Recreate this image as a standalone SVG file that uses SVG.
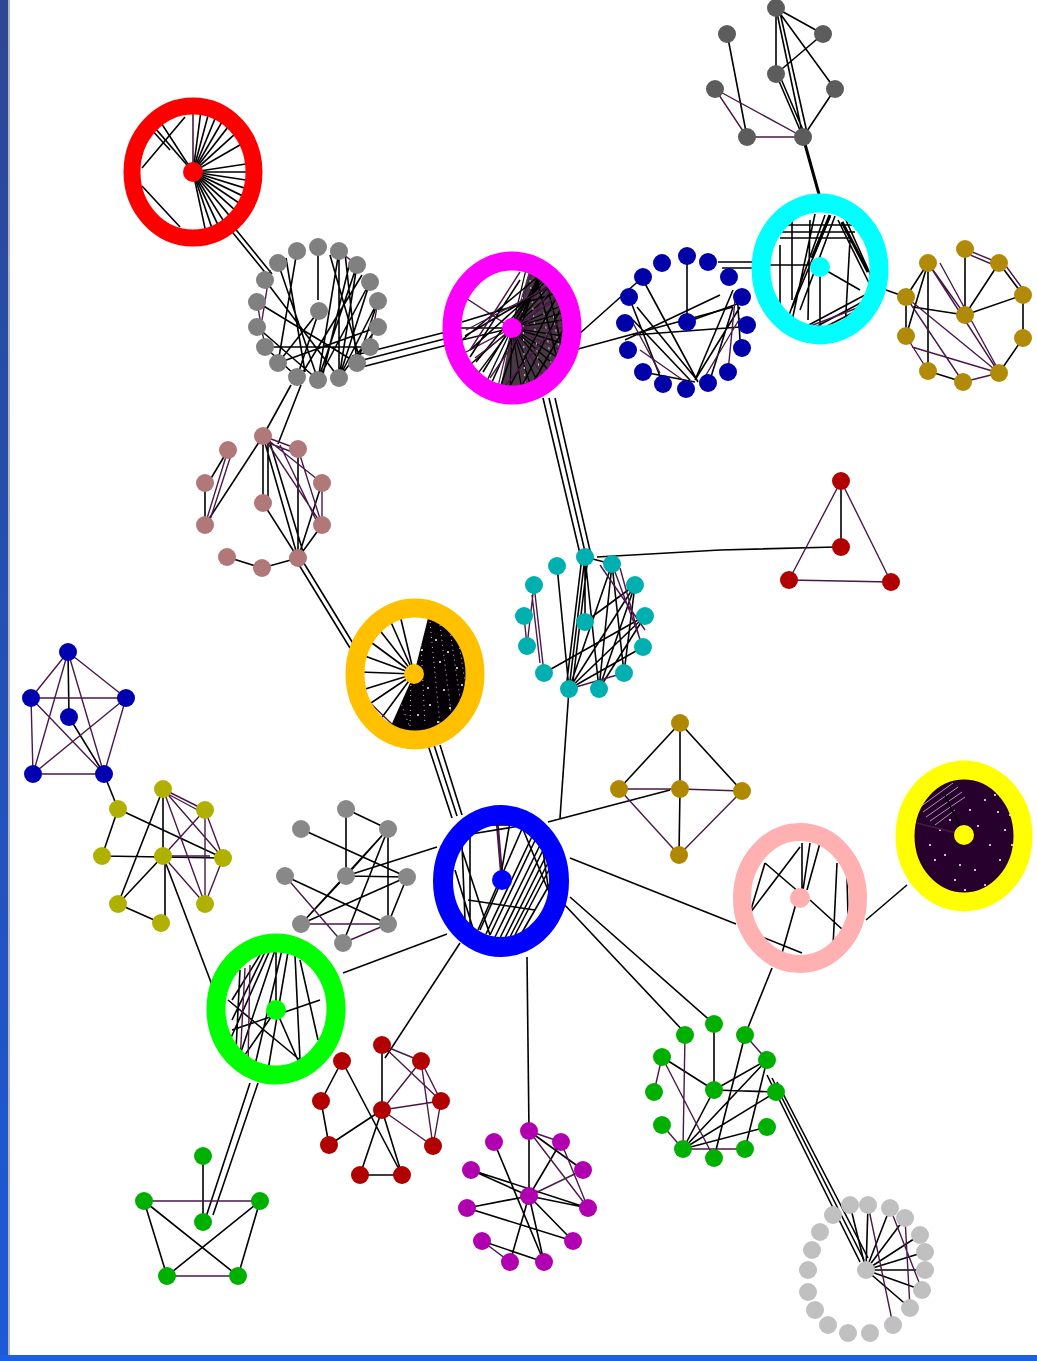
<svg xmlns="http://www.w3.org/2000/svg" width="1037" height="1361" viewBox="0 0 1037 1361">
<style>
.e{stroke:#000;stroke-width:1.6;fill:none}
.p{stroke:#4a1848;stroke-width:1.4;fill:none}
.w{stroke:#fff;stroke-width:0.8;fill:none}
.ring{fill:none}
</style>
<defs>
<linearGradient id="lb" x1="0" y1="0" x2="0" y2="1">
<stop offset="0" stop-color="#2c4793"/><stop offset="1" stop-color="#1d5ad6"/>
</linearGradient>
<line id="sp" x1="0" y1="0" x2="60" y2="0"/>
</defs>
<rect width="1037" height="1361" fill="#fff"/>
<rect x="0" y="0" width="8" height="1361" fill="url(#lb)"/>
<rect x="8" y="0" width="2" height="1361" fill="#b8b8b8"/>
<rect x="0" y="1355" width="1037" height="6" fill="#1c5fe0"/>

<g id="connectors">
<path class="e" d="M229,228L268,276M233,226L272,274"/>
<path class="e" d="M352,356L450,331M355,362L452,337M358,368L455,343"/>
<path class="e" d="M291,385L263,436M301,385L278,444"/>
<path class="e" d="M296,560L350,648M302,560L354,645"/>
<path class="e" d="M543,398L581,558M549,398L586,556M555,398L591,555"/>
<path class="e" d="M578,335L643,277M578,349L733,307"/>
<path class="e" d="M718,262L760,262M722,268L760,268"/>
<path class="e" d="M886,290L906,297"/>
<path class="e" style="stroke-width:3" d="M803,137L822,205"/>
<path class="e" d="M597,557L720,550L836,547"/>
<path class="e" d="M569,689L560,818"/>
<path class="e" d="M428,745L452,818M434,745L457,816M440,745L462,815"/>
<path class="e" d="M104,774L118,809"/>
<path class="e" d="M163,856L212,985"/>
<path class="e" d="M346,876L437,847"/>
<path class="e" d="M343,973L447,934"/>
<path class="e" d="M460,943L385,1058"/>
<path class="e" d="M527,957L529,1131"/>
<path class="e" d="M548,822L670,790"/>
<path class="e" d="M570,858L736,924"/>
<path class="e" d="M562,902L686,1034M570,897L714,1024"/>
<path class="e" d="M866,920L907,885"/>
<path class="e" d="M772,968L745,1035"/>
<path class="e" d="M767,1075L860,1262M772,1078L864,1260M777,1082L868,1258"/>
<path class="e" d="M250,1083L205,1220M258,1083L213,1215"/>

<path class="e" d="M776,8L823,34M776,8L776,74M776,8L803,137M779,8L808,137M776,8L835,89M823,34L776,74M727,33L747,137M776,74L803,137M779,74L806,137M835,89L803,137"/>
<path class="p" d="M715,89L747,137M715,89L803,137M747,137L803,137"/>

<g class="e" transform="translate(193,172) scale(1,1.08)">
<use href="#sp" transform="rotate(-90)" style="stroke:#4a1848"/>
<use href="#sp" transform="rotate(-82)"/><use href="#sp" transform="rotate(-74)"/><use href="#sp" transform="rotate(-66)"/>
<use href="#sp" transform="rotate(-58)"/><use href="#sp" transform="rotate(-50)"/><use href="#sp" transform="rotate(-40)"/>
<use href="#sp" transform="rotate(-28)"/><use href="#sp" transform="rotate(-8)"/><use href="#sp" transform="rotate(0)"/>
<use href="#sp" transform="rotate(8)"/><use href="#sp" transform="rotate(16)"/><use href="#sp" transform="rotate(24)"/>
<use href="#sp" transform="rotate(32)"/><use href="#sp" transform="rotate(40)"/><use href="#sp" transform="rotate(48)"/>
<use href="#sp" transform="rotate(56)"/><use href="#sp" transform="rotate(63)"/><use href="#sp" transform="rotate(70)"/>
<use href="#sp" transform="rotate(77)"/><use href="#sp" transform="rotate(-125)"/><use href="#sp" transform="rotate(-133)"/>
</g>
<path class="e" d="M142,168L185,117M142,186L180,227M150,128L170,150"/>

<path class="e" d="M297,251L278,363M278,263L318,380M339,251L318,380M339,251L339,378M345,253L357,363M357,265L339,378M357,265L318,380M370,282L339,378M370,282L318,380M378,301L339,378M378,301L357,363M378,327L339,378M319,311L297,377M319,311L278,363M265,280L339,378M257,302L357,363M257,327L318,380M265,347L297,377M318,247L318,300M330,255L360,360M350,262L322,378M362,275L300,377M265,347L370,347M278,363L378,327M286,258L305,372"/>
<path class="p" d="M257,302L265,347M270,270L262,320M370,347L378,301M339,251L357,265"/>

<path d="M512,328L530,268A55,62 0 0,1 500,390Z" fill="#14000f" opacity="0.78"/>
<g class="e" style="stroke-width:1.2" transform="translate(512,328) scale(1,1.12)">
<use href="#sp" transform="rotate(-75)"/><use href="#sp" transform="rotate(-68)" style="stroke:#4a1848"/><use href="#sp" transform="rotate(-60)"/>
<use href="#sp" transform="rotate(-52)" style="stroke:#4a1848"/><use href="#sp" transform="rotate(-45)"/><use href="#sp" transform="rotate(-38)"/>
<use href="#sp" transform="rotate(-30)" style="stroke:#4a1848"/><use href="#sp" transform="rotate(-22)"/><use href="#sp" transform="rotate(-15)"/>
<use href="#sp" transform="rotate(-8)"/><use href="#sp" transform="rotate(0)" style="stroke:#4a1848"/><use href="#sp" transform="rotate(8)"/>
<use href="#sp" transform="rotate(15)"/><use href="#sp" transform="rotate(22)" style="stroke:#4a1848"/><use href="#sp" transform="rotate(30)"/>
<use href="#sp" transform="rotate(38)"/><use href="#sp" transform="rotate(46)"/><use href="#sp" transform="rotate(54)" style="stroke:#4a1848"/>
<use href="#sp" transform="rotate(62)"/><use href="#sp" transform="rotate(70)"/><use href="#sp" transform="rotate(80)"/>
<use href="#sp" transform="rotate(92)"/><use href="#sp" transform="rotate(105)" style="stroke:#4a1848"/><use href="#sp" transform="rotate(118)"/>
<use href="#sp" transform="rotate(130)"/><use href="#sp" transform="rotate(142)"/><use href="#sp" transform="rotate(155)" style="stroke:#4a1848"/>
<use href="#sp" transform="rotate(168)"/><use href="#sp" transform="rotate(180)"/><use href="#sp" transform="rotate(-150)" style="stroke:#4a1848"/>
</g>
<g class="w" style="stroke-dasharray:2 5">
<path d="M530,280L540,380M540,285L552,370M550,295L560,355M522,290L525,385"/>
</g>
<path class="e" d="M462,322L560,292M465,336L556,282M470,350L552,276M476,362L548,274M483,372L545,272M492,382L541,273M500,388L538,276M508,390L555,300M520,390L560,310M530,388L563,330M462,340L540,275M470,357L520,280M540,386L562,350M548,382L565,340M535,272L560,370M545,276L565,360"/>
<path class="p" d="M466,330L552,285M475,358L558,295M490,378L550,290M505,386L562,318M520,272L470,350"/>

<path class="e" d="M687,256L687,322M637,307L697,380M633,320L690,380M643,372L695,382M695,380L733,290M695,380L740,307M687,322L740,303M633,335L740,327M737,290L740,340M733,307L710,380M629,297L663,384M642,278L698,382M625,340L720,295"/>
<path class="p" d="M633,323L660,373M640,350L690,385M740,318L700,385M735,300L728,372"/>

<path class="e" d="M830,217L792,308M825,215L788,318M835,216L800,310M815,214L790,330M772,225L860,225M775,232L855,232M780,238L850,238M790,335L865,295M795,338L866,300M800,340L862,308M810,342L860,318M820,267L860,290M820,267L820,335M838,220L870,285M845,218L872,278M792,220L792,300M780,245L780,320M810,220L808,320M770,265L820,265M850,240L845,330"/>
<path class="e" style="stroke-width:3" d="M830,215L812,258M842,222L868,272"/>
<path class="p" d="M800,330L865,305M812,338L858,312"/>

<path class="e" d="M965,249L965,315M999,263L1023,295M1023,295L1023,338M1023,338L999,373M963,382L928,371M906,336L906,297M906,297L928,263M928,263L928,371M965,315L1023,295M965,315L999,263M928,263L906,336M913,307L965,315"/>
<path class="p" d="M965,249L999,263M968,254L1001,268M1003,262L1025,292M999,373L963,382M928,371L906,336M928,263L965,315M928,263L999,373M906,297L999,373M906,297L963,382M912,347L999,373M940,263L1000,373"/>

<path class="e" d="M205,483L205,525M263,436L205,525M263,436L263,503M268,436L268,503M263,436L298,558M268,436L304,555M298,449L298,558M322,483L298,558M322,525L298,558M263,503L298,558M227,557L262,568M262,568L298,558M210,480L228,450"/>
<path class="p" d="M228,450L205,525M232,452L209,523M263,436L322,483M263,436L322,525M263,436L298,449M266,442L300,455M298,449L322,525M322,483L322,525M280,445L316,520"/>

<path class="e" d="M841,481L841,547"/>
<path class="p" d="M841,481L789,580M841,481L891,582M789,580L891,582"/>

<path class="e" d="M557,566L569,689M585,557L569,689M582,557L566,689M588,557L572,689M585,557L599,689M612,564L569,689M612,564L599,689M635,585L569,689M635,585L599,689M645,616L569,689M643,647L569,689M612,564L624,673M635,585L624,673M645,616L599,689M544,673L645,616M569,689L643,647M585,622L635,585M585,557L612,564M585,557L585,622"/>
<path class="p" d="M534,585L527,646M532,595L540,663M534,585L544,673M524,616L527,646M624,673L569,689M612,564L643,647M620,568L640,640M600,565L645,630"/>

<path d="M414,674L428,618A56,60 0 1,1 390,728Z" fill="#050005"/>
<g class="w" style="stroke-dasharray:1 4">
<path d="M420,625L425,725M430,622L440,725M440,625L452,720M450,630L462,712M458,638L468,700M465,650L470,690M412,630L410,728M400,700L410,728"/>
</g>
<g fill="#fff">
<circle cx="436" cy="640" r="1"/><circle cx="448" cy="652" r="1"/><circle cx="457" cy="668" r="1"/><circle cx="444" cy="690" r="1"/>
<circle cx="430" cy="705" r="1"/><circle cx="450" cy="708" r="1"/><circle cx="422" cy="650" r="1"/><circle cx="462" cy="685" r="1"/>
<circle cx="418" cy="715" r="1"/><circle cx="438" cy="722" r="1"/><circle cx="428" cy="688" r="1"/><circle cx="440" cy="662" r="1"/>
</g>
<path class="e" d="M414,674L390,620M414,674L378,628M414,674L368,640M414,674L362,655M414,674L360,672M414,674L362,690M414,674L368,705M414,674L380,720M414,674L400,615"/>
<path class="p" d="M362,695L398,730M365,708L392,732"/>

<path class="e" d="M68,652L69,717M69,717L104,774"/>
<path class="p" d="M68,652L31,698M68,652L126,698M68,652L33,774M68,652L104,774M31,698L126,698M31,698L33,774M31,698L104,774M126,698L33,774M126,698L104,774M33,774L104,774"/>

<path class="e" d="M163,789L163,856M163,789L118,904M118,809L223,858M102,856L223,858M163,856L118,904M165,856L165,923M118,904L161,923M118,809L102,856"/>
<path class="p" d="M163,789L205,810M166,793L207,815M163,789L223,858M163,789L205,904M205,810L223,858M205,810L205,904M205,810L163,856M163,856L205,904M223,858L205,904M170,856L210,856"/>

<path class="e" d="M346,809L346,876M346,809L388,829M301,829L407,877M388,829L301,924M388,829L346,876M388,829L388,924M388,829L343,943M285,876L388,924M346,876L301,924M407,877L301,924M407,877L388,924M346,876L407,877"/>
<path class="p" d="M285,876L343,943M301,924L388,924M343,943L388,924"/>

<path class="p" d="M502,880L497,820" style="stroke-width:3"/>
<path class="e" d="M490,935L540,830M495,937L545,835M500,938L548,840M505,938L550,848M510,937L552,855M515,935L553,862M478,930L525,822M470,925L470,830M465,920L462,845M475,935L455,870M502,880L480,930M520,822L548,890M510,822L500,880M462,850L490,935M468,900L535,910M530,822L552,870M540,830L550,900M482,825L545,825M486,934L536,828M520,936L555,875M465,835L520,826"/>

<path class="e" d="M680,723L619,789M680,723L680,789M680,723L742,791M680,789L679,855"/>
<path class="p" d="M619,789L680,789M680,789L742,791M619,789L679,855M742,791L679,855"/>

<path class="e" d="M765,863L800,893M750,913L765,863M750,913L800,847M802,843L802,897M810,843L803,890M820,843L807,890M810,900L843,930M837,863L833,947M847,877L848,917M797,900L782,953M762,937L802,953"/>

<ellipse cx="964" cy="836" rx="52" ry="58" fill="#28002e"/>
<g class="w" style="stroke-width:0.6">
<path d="M920,807L953,783M923,812L958,787M926,817L962,792M930,821L965,797M935,825L955,810"/>
</g>
<g fill="#fff">
<circle cx="985" cy="800" r="1"/><circle cx="998" cy="812" r="1"/><circle cx="1005" cy="830" r="1"/><circle cx="990" cy="845" r="1"/>
<circle cx="975" cy="870" r="1"/><circle cx="960" cy="865" r="1"/><circle cx="945" cy="855" r="1"/><circle cx="930" cy="845" r="1"/>
<circle cx="1000" cy="860" r="1"/><circle cx="985" cy="885" r="1"/><circle cx="955" cy="880" r="1"/><circle cx="940" cy="830" r="1"/>
<circle cx="970" cy="810" r="1"/><circle cx="1010" cy="815" r="1"/><circle cx="965" cy="890" r="1"/><circle cx="950" cy="820" r="1"/>
<circle cx="978" cy="826" r="1"/><circle cx="1012" cy="845" r="1"/><circle cx="935" cy="860" r="1"/><circle cx="995" cy="795" r="1"/>
</g>
<path class="p" d="M964,835L913,822"/>
<path class="e" d="M964,835L945,795"/>

<path class="e" d="M270,950L230,1040M275,950L240,1055M282,950L255,1065M288,952L268,1070M295,955L300,1060M265,952L232,1020M276,1010L276,950M276,1010L240,1062M276,1010L300,1065M300,960L318,1040M240,970L236,1050M228,1000L300,1060M232,1030L320,1000M260,955L232,1000"/>
<path class="p" d="M245,968L240,1062M250,965L248,1065"/>

<path class="e" d="M382,1045L382,1110M329,1145L382,1110M360,1175L382,1110M402,1175L382,1110M360,1175L402,1175M321,1101L329,1145M342,1061L321,1101M342,1061L402,1175"/>
<path class="p" d="M382,1045L421,1061M421,1061L441,1101M382,1045L441,1101M382,1110L421,1061M382,1110L441,1101M382,1110L433,1146M421,1061L433,1146M441,1101L433,1146"/>

<path class="e" d="M529,1131L529,1196M529,1131L583,1170M561,1142L529,1196M471,1170L529,1196M467,1208L529,1196M467,1208L573,1241M482,1241L544,1262M510,1262L529,1196M529,1196L573,1241M529,1196L544,1262M529,1196L588,1208M471,1170L588,1208M494,1142L544,1262"/>
<path class="p" d="M529,1131L561,1142M529,1131L588,1208M529,1196L583,1170M561,1142L588,1208M482,1241L510,1262"/>

<path class="e" d="M714,1024L714,1090M767,1060L714,1090M714,1090L776,1092M714,1090L683,1149M767,1060L683,1149M776,1092L683,1149M767,1127L683,1149M745,1035L714,1158M662,1057L714,1090M767,1060L745,1149"/>
<path class="p" d="M654,1092L662,1057M662,1125L683,1149M745,1149L683,1149M745,1035L767,1060M662,1057L714,1158M685,1035L683,1149"/>

<path class="e" d="M866,1270L868,1205M866,1270L890,1208M866,1270L905,1218M866,1270L920,1235M866,1270L925,1252M866,1270L925,1270M866,1270L922,1290M866,1270L910,1308M850,1205L866,1270"/>
<path class="p" d="M890,1208L922,1290M905,1218L910,1308M868,1205L893,1325"/>

<path class="e" d="M203,1156L203,1222M144,1201L167,1276M260,1201L238,1276M144,1201L238,1276M260,1201L167,1276"/>
<path class="p" d="M144,1201L260,1201M167,1276L238,1276"/>
</g>

<g id="n-topgray" fill="#5c5c5c">
<circle cx="776" cy="8" r="9"/><circle cx="727" cy="34" r="9"/><circle cx="823" cy="34" r="9"/><circle cx="776" cy="74" r="9"/>
<circle cx="715" cy="89" r="9"/><circle cx="835" cy="89" r="9"/><circle cx="747" cy="137" r="9"/><circle cx="803" cy="137" r="9"/>
</g>
<g id="n-red">
<ellipse class="ring" cx="193" cy="172" rx="61" ry="66" stroke="#ff0000" stroke-width="17"/>
<circle cx="193" cy="172" r="10" fill="#ff0000"/>
</g>
<g id="n-gray1" fill="#808080">
<circle cx="297" cy="251" r="9"/><circle cx="318" cy="247" r="9"/><circle cx="339" cy="251" r="9"/><circle cx="357" cy="265" r="9"/>
<circle cx="370" cy="282" r="9"/><circle cx="378" cy="301" r="9"/><circle cx="378" cy="327" r="9"/><circle cx="370" cy="347" r="9"/>
<circle cx="357" cy="363" r="9"/><circle cx="339" cy="378" r="9"/><circle cx="318" cy="380" r="9"/><circle cx="297" cy="377" r="9"/>
<circle cx="278" cy="363" r="9"/><circle cx="265" cy="347" r="9"/><circle cx="257" cy="327" r="9"/><circle cx="257" cy="302" r="9"/>
<circle cx="265" cy="280" r="9"/><circle cx="278" cy="263" r="9"/><circle cx="319" cy="311" r="9"/>
</g>
<g id="n-magenta">
<ellipse class="ring" cx="512" cy="328" rx="60" ry="67" stroke="#ff00ff" stroke-width="19"/>
<circle cx="512" cy="328" r="10" fill="#ff00ff"/>
</g>
<g id="n-darkblue" fill="#0000a8">
<circle cx="687" cy="256" r="9"/><circle cx="708" cy="262" r="9"/><circle cx="729" cy="277" r="9"/><circle cx="742" cy="297" r="9"/>
<circle cx="747" cy="325" r="9"/><circle cx="742" cy="348" r="9"/><circle cx="728" cy="372" r="9"/><circle cx="708" cy="383" r="9"/>
<circle cx="686" cy="389" r="9"/><circle cx="663" cy="384" r="9"/><circle cx="643" cy="372" r="9"/><circle cx="628" cy="350" r="9"/>
<circle cx="625" cy="323" r="9"/><circle cx="629" cy="297" r="9"/><circle cx="643" cy="277" r="9"/><circle cx="662" cy="263" r="9"/>
<circle cx="687" cy="322" r="9"/>
</g>
<g id="n-cyan">
<ellipse class="ring" cx="820" cy="269" rx="59" ry="66" stroke="#00ffff" stroke-width="19"/>
<circle cx="820" cy="267" r="10" fill="#00ffff"/>
</g>
<g id="n-gold" fill="#b08a08">
<circle cx="965" cy="249" r="9"/><circle cx="999" cy="263" r="9"/><circle cx="1023" cy="295" r="9"/><circle cx="1023" cy="338" r="9"/>
<circle cx="999" cy="373" r="9"/><circle cx="963" cy="382" r="9"/><circle cx="928" cy="371" r="9"/><circle cx="906" cy="336" r="9"/>
<circle cx="906" cy="297" r="9"/><circle cx="928" cy="263" r="9"/><circle cx="965" cy="315" r="9"/>
</g>
<g id="n-mauve" fill="#b07878">
<circle cx="263" cy="436" r="9"/><circle cx="298" cy="449" r="9"/><circle cx="322" cy="483" r="9"/><circle cx="322" cy="525" r="9"/>
<circle cx="298" cy="558" r="9"/><circle cx="262" cy="568" r="9"/><circle cx="227" cy="557" r="9"/><circle cx="205" cy="525" r="9"/>
<circle cx="205" cy="483" r="9"/><circle cx="228" cy="450" r="9"/><circle cx="263" cy="503" r="9"/>
</g>
<g id="n-triangle" fill="#b00000">
<circle cx="841" cy="481" r="9"/><circle cx="841" cy="547" r="9"/><circle cx="789" cy="580" r="9"/><circle cx="891" cy="582" r="9"/>
</g>
<g id="n-teal" fill="#00b0b0">
<circle cx="585" cy="557" r="9"/><circle cx="612" cy="564" r="9"/><circle cx="635" cy="585" r="9"/><circle cx="645" cy="616" r="9"/>
<circle cx="643" cy="647" r="9"/><circle cx="624" cy="673" r="9"/><circle cx="599" cy="689" r="9"/><circle cx="569" cy="689" r="9"/>
<circle cx="544" cy="673" r="9"/><circle cx="527" cy="646" r="9"/><circle cx="524" cy="616" r="9"/><circle cx="534" cy="585" r="9"/>
<circle cx="557" cy="566" r="9"/><circle cx="585" cy="622" r="9"/>
</g>
<g id="n-amber">
<ellipse class="ring" cx="415" cy="674" rx="60" ry="66" stroke="#ffc000" stroke-width="19"/>
<circle cx="414" cy="674" r="10" fill="#ffc000"/>
</g>
<g id="n-bluepent" fill="#0000b0">
<circle cx="68" cy="652" r="9"/><circle cx="31" cy="698" r="9"/><circle cx="126" cy="698" r="9"/><circle cx="69" cy="717" r="9"/>
<circle cx="33" cy="774" r="9"/><circle cx="104" cy="774" r="9"/>
</g>
<g id="n-olive" fill="#b0b000">
<circle cx="163" cy="789" r="9"/><circle cx="118" cy="809" r="9"/><circle cx="205" cy="810" r="9"/><circle cx="102" cy="856" r="9"/>
<circle cx="163" cy="856" r="9"/><circle cx="223" cy="858" r="9"/><circle cx="118" cy="904" r="9"/><circle cx="205" cy="904" r="9"/>
<circle cx="161" cy="923" r="9"/>
</g>
<g id="n-gray2" fill="#888888">
<circle cx="346" cy="809" r="9"/><circle cx="301" cy="829" r="9"/><circle cx="388" cy="829" r="9"/><circle cx="285" cy="876" r="9"/>
<circle cx="346" cy="876" r="9"/><circle cx="407" cy="877" r="9"/><circle cx="301" cy="924" r="9"/><circle cx="388" cy="924" r="9"/>
<circle cx="343" cy="943" r="9"/>
</g>
<g id="n-blue">
<ellipse class="ring" cx="501" cy="881" rx="58" ry="66" stroke="#0000ff" stroke-width="20"/>
<circle cx="502" cy="880" r="10" fill="#0000ff"/>
</g>
<g id="n-diamond" fill="#b08800">
<circle cx="680" cy="723" r="9"/><circle cx="619" cy="789" r="9"/><circle cx="680" cy="789" r="9"/><circle cx="742" cy="791" r="9"/>
<circle cx="679" cy="855" r="9"/>
</g>
<g id="n-pink">
<ellipse class="ring" cx="800" cy="898" rx="58" ry="66" stroke="#ffb0b0" stroke-width="18"/>
<circle cx="800" cy="898" r="10" fill="#ffb0b0"/>
</g>
<g id="n-yellow">
<ellipse class="ring" cx="964" cy="836" rx="59" ry="66" stroke="#ffff00" stroke-width="19"/>
<circle cx="964" cy="835" r="10" fill="#ffff00"/>
</g>
<g id="n-green">
<ellipse class="ring" cx="276" cy="1009" rx="60" ry="66" stroke="#00ff00" stroke-width="19"/>
<circle cx="276" cy="1010" r="10" fill="#00ff00"/>
</g>
<g id="n-darkred" fill="#b00000">
<circle cx="342" cy="1061" r="9"/><circle cx="382" cy="1045" r="9"/><circle cx="421" cy="1061" r="9"/><circle cx="441" cy="1101" r="9"/>
<circle cx="433" cy="1146" r="9"/><circle cx="402" cy="1175" r="9"/><circle cx="360" cy="1175" r="9"/><circle cx="329" cy="1145" r="9"/>
<circle cx="321" cy="1101" r="9"/><circle cx="382" cy="1110" r="9"/>
</g>
<g id="n-purple" fill="#b000b0">
<circle cx="529" cy="1131" r="9"/><circle cx="561" cy="1142" r="9"/><circle cx="583" cy="1170" r="9"/><circle cx="588" cy="1208" r="9"/>
<circle cx="573" cy="1241" r="9"/><circle cx="544" cy="1262" r="9"/><circle cx="510" cy="1262" r="9"/><circle cx="482" cy="1241" r="9"/>
<circle cx="467" cy="1208" r="9"/><circle cx="471" cy="1170" r="9"/><circle cx="494" cy="1142" r="9"/><circle cx="529" cy="1196" r="9"/>
</g>
<g id="n-greenright" fill="#00b000">
<circle cx="714" cy="1024" r="9"/><circle cx="745" cy="1035" r="9"/><circle cx="767" cy="1060" r="9"/><circle cx="776" cy="1092" r="9"/>
<circle cx="767" cy="1127" r="9"/><circle cx="745" cy="1149" r="9"/><circle cx="714" cy="1158" r="9"/><circle cx="683" cy="1149" r="9"/>
<circle cx="662" cy="1125" r="9"/><circle cx="654" cy="1092" r="9"/><circle cx="662" cy="1057" r="9"/><circle cx="685" cy="1035" r="9"/>
<circle cx="714" cy="1090" r="9"/>
</g>
<g id="n-greenpent" fill="#00b000">
<circle cx="203" cy="1156" r="9"/><circle cx="144" cy="1201" r="9"/><circle cx="260" cy="1201" r="9"/><circle cx="203" cy="1222" r="9"/>
<circle cx="167" cy="1276" r="9"/><circle cx="238" cy="1276" r="9"/>
</g>
<g id="n-lightgray" fill="#c0c0c0">
<circle cx="868" cy="1205" r="9"/><circle cx="890" cy="1208" r="9"/><circle cx="905" cy="1218" r="9"/><circle cx="920" cy="1235" r="9"/>
<circle cx="925" cy="1252" r="9"/><circle cx="925" cy="1270" r="9"/><circle cx="922" cy="1290" r="9"/><circle cx="910" cy="1308" r="9"/>
<circle cx="893" cy="1325" r="9"/><circle cx="870" cy="1333" r="9"/><circle cx="848" cy="1333" r="9"/><circle cx="828" cy="1325" r="9"/>
<circle cx="815" cy="1310" r="9"/><circle cx="808" cy="1292" r="9"/><circle cx="808" cy="1270" r="9"/><circle cx="812" cy="1250" r="9"/>
<circle cx="820" cy="1232" r="9"/><circle cx="833" cy="1215" r="9"/><circle cx="850" cy="1205" r="9"/><circle cx="866" cy="1270" r="9"/>
</g>
</svg>
